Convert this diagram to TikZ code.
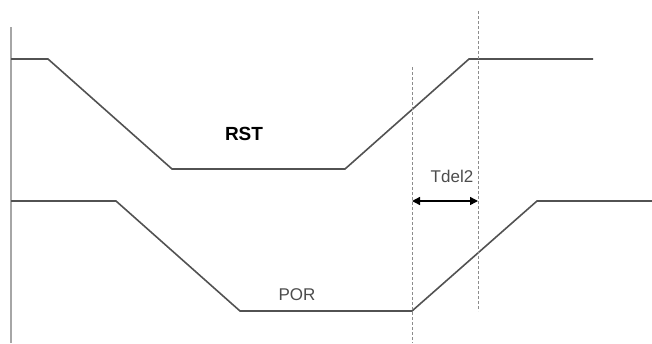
\documentclass[tikz,border=0pt]{standalone}
\usepackage{fontspec}
\setmainfont{Liberation Sans}
\usetikzlibrary{arrows.meta}
\begin{document}
\begin{tikzpicture}[x=1pt,y=-1pt,
  wave/.style={draw=black!68,line width=1.6pt,line join=miter},
  axisline/.style={draw=black!35,line width=1.6pt},
  guide/.style={draw=black!45,line width=0.7pt,dash pattern=on 3pt off 2pt},
  lbl/.style={font=\fontsize{17}{17}\selectfont,text=black!70,inner sep=0pt}]
\useasboundingbox (0,0) rectangle (652,343);
\draw[axisline] (11,27) -- (11,343);
% RST
\coordinate (r0) at (11,59);
\coordinate (r1) at (48,59);
\coordinate (r2) at (172,169);
\coordinate (r3) at (345,169);
\coordinate (r4) at (469,59);
\coordinate (r5) at (593,59);
\draw[wave] (r0) -- (r1) -- (r2) -- (r3) -- (r4) -- (r5);
% POR
\coordinate (p0) at (11,201);
\coordinate (p1) at (116,201);
\coordinate (p2) at (240,311);
\coordinate (p3) at (412,311);
\coordinate (p4) at (537,201);
\coordinate (p5) at (652,201);
\draw[wave] (p0) -- (p1) -- (p2) -- (p3) -- (p4) -- (p5);
% guides
\coordinate (g1t) at (412,67);
\coordinate (g1b) at (412,343);
\coordinate (g2t) at (478,11);
\coordinate (g2b) at (478,311);
\draw[guide] (g1t) -- (g1b);
\draw[guide] (g2t) -- (g2b);
\coordinate (a1) at (412,201);
\coordinate (a2) at (478,201);
\draw[black,line width=1.4pt,{Triangle[length=8pt,width=8pt]}-{Triangle[length=8pt,width=8pt]}] (a1) -- (a2);
\node[lbl] (tdel) at (452,176) {Tdel2};
\node[lbl,text=black,font=\fontsize{19}{19}\selectfont\bfseries] (rst) at (244,134) {RST};
\node[lbl] (por) at (297,295) {POR};
\end{tikzpicture}
\end{document}
